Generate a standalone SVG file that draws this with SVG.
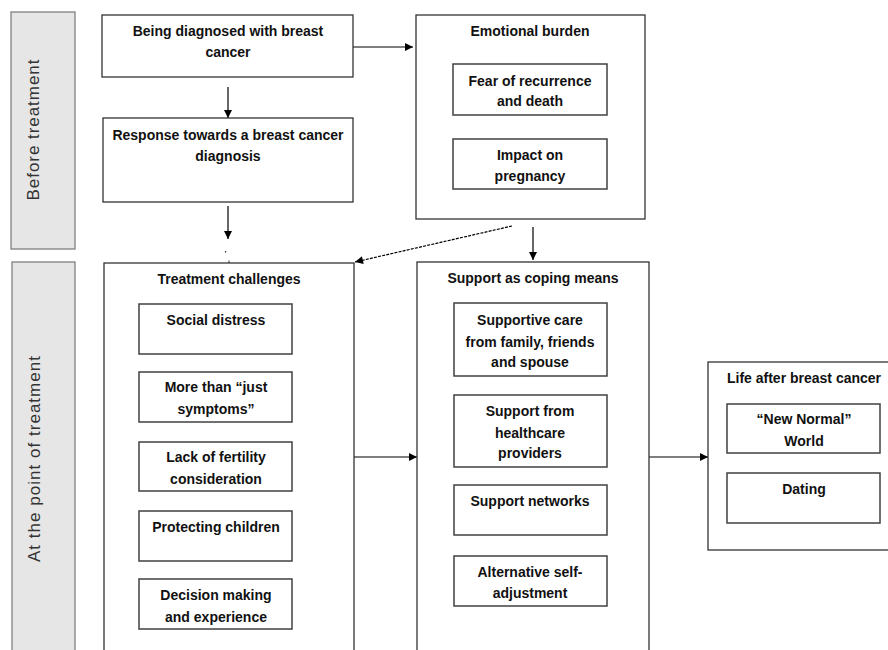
<svg xmlns="http://www.w3.org/2000/svg" width="888" height="650" viewBox="0 0 888 650">
<defs>
<marker id="ah" viewBox="0 0 10 10" refX="10" refY="5" markerWidth="9" markerHeight="8" markerUnits="userSpaceOnUse" orient="auto">
<path d="M0,0 L10,5 L0,10 Z" fill="#000"/>
</marker>
<style>
.side{fill:#e6e6e6;stroke:#808080;stroke-width:1.3}
.sidet{font-family:"Liberation Sans",Arial,sans-serif;font-size:17px;fill:#333;text-anchor:middle}
.box{fill:#fff;stroke:#333;stroke-width:1.3}
.inner{fill:#fff;stroke:#404040;stroke-width:1.5}
.t{font-family:"Liberation Sans",Arial,sans-serif;font-size:14px;font-weight:bold;fill:#111;text-anchor:middle}
.c{fill:none;stroke:#000;stroke-width:1.2;marker-end:url(#ah)}
.d{fill:none;stroke:#000;stroke-width:1.2;stroke-dasharray:3 1.2;marker-end:url(#ah)}
</style>
</defs>
<rect width="888" height="650" fill="#fff"/>

<g id="phase-before">
<rect class="side" x="11" y="12" width="64" height="237"/>
<text class="sidet" transform="translate(39,130) rotate(-90)" textLength="141" lengthAdjust="spacing">Before treatment</text>
</g>
<g id="phase-treatment">
<rect class="side" x="12" y="262" width="63" height="400"/>
<text class="sidet" transform="translate(40,459) rotate(-90)" textLength="206" lengthAdjust="spacing">At the point of treatment</text>
</g>

<g id="connectors">
<line class="c" x1="353" y1="47" x2="413" y2="47"/>
<line class="c" x1="228" y1="87" x2="228" y2="118"/>
<line class="c" x1="228" y1="206" x2="228" y2="239"/>
<rect x="225" y="251" width="1.2" height="1.5" fill="#333"/>
<line x1="229" y1="260.5" x2="229" y2="263" stroke="#333" stroke-width="1"/>
<line class="d" x1="512" y1="226" x2="355" y2="262"/>
<line class="c" x1="533" y1="227" x2="533" y2="260"/>
<line class="c" x1="354" y1="457" x2="417" y2="457"/>
<line class="c" x1="649" y1="457" x2="708" y2="457"/>
</g>

<g id="diagnosed">
<rect class="box" x="102" y="15" width="251" height="62"/>
<text class="t" x="228" y="36">Being diagnosed with breast</text>
<text class="t" x="228" y="57">cancer</text>
</g>
<g id="response">
<rect class="box" x="103" y="118" width="250" height="84"/>
<text class="t" x="228" y="140">Response towards a breast cancer</text>
<text class="t" x="228" y="161">diagnosis</text>
</g>

<g id="emotional-burden">
<rect class="box" x="416" y="15" width="229" height="204"/>
<text class="t" x="530" y="36">Emotional burden</text>
</g>
<g id="fear">
<rect class="inner" x="453" y="64" width="154" height="51"/>
<text class="t" x="530" y="86">Fear of recurrence</text>
<text class="t" x="530" y="106">and death</text>
</g>
<g id="pregnancy">
<rect class="inner" x="453" y="139" width="154" height="50"/>
<text class="t" x="530" y="160">Impact on</text>
<text class="t" x="530" y="181">pregnancy</text>
</g>

<g id="treatment-challenges">
<rect class="box" x="104" y="263" width="250" height="400"/>
<text class="t" x="229" y="284">Treatment challenges</text>
</g>
<g id="social-distress">
<rect class="inner" x="139" y="304" width="153" height="50"/>
<text class="t" x="216" y="325">Social distress</text>
</g>
<g id="more-than-symptoms">
<rect class="inner" x="139" y="372" width="153" height="50"/>
<text class="t" x="216" y="392">More than “just</text>
<text class="t" x="216" y="414">symptoms”</text>
</g>
<g id="fertility">
<rect class="inner" x="139" y="442" width="153" height="49"/>
<text class="t" x="216" y="462">Lack of fertility</text>
<text class="t" x="216" y="484">consideration</text>
</g>
<g id="protecting-children">
<rect class="inner" x="139" y="511" width="153" height="50"/>
<text class="t" x="216" y="532">Protecting children</text>
</g>
<g id="decision-making">
<rect class="inner" x="139" y="579" width="153" height="50"/>
<text class="t" x="216" y="600">Decision making</text>
<text class="t" x="216" y="622">and experience</text>
</g>

<g id="support-coping">
<rect class="box" x="417" y="262" width="232" height="400"/>
<text class="t" x="533" y="283">Support as coping means</text>
</g>
<g id="supportive-care">
<rect class="inner" x="454" y="303" width="153" height="73"/>
<text class="t" x="530" y="325">Supportive care</text>
<text class="t" x="530" y="347">from family, friends</text>
<text class="t" x="530" y="367">and spouse</text>
</g>
<g id="healthcare-providers">
<rect class="inner" x="454" y="395" width="153" height="72"/>
<text class="t" x="530" y="416">Support from</text>
<text class="t" x="530" y="438">healthcare</text>
<text class="t" x="530" y="458">providers</text>
</g>
<g id="support-networks">
<rect class="inner" x="454" y="485" width="153" height="50"/>
<text class="t" x="530" y="506">Support networks</text>
</g>
<g id="self-adjustment">
<rect class="inner" x="454" y="556" width="153" height="50"/>
<text class="t" x="530" y="577">Alternative self-</text>
<text class="t" x="530" y="598">adjustment</text>
</g>

<g id="life-after">
<rect class="box" x="708" y="362" width="190" height="188"/>
<text class="t" x="804" y="383">Life after breast cancer</text>
</g>
<g id="new-normal">
<rect class="inner" x="727" y="404" width="153" height="49"/>
<text class="t" x="804" y="424">“New Normal”</text>
<text class="t" x="804" y="446">World</text>
</g>
<g id="dating">
<rect class="inner" x="727" y="473" width="153" height="50"/>
<text class="t" x="804" y="494">Dating</text>
</g>
</svg>
